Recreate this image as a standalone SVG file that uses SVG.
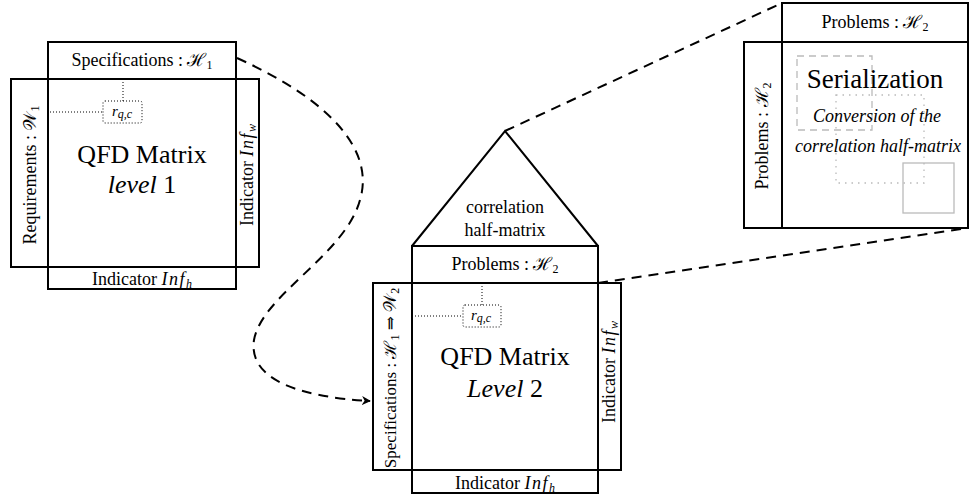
<svg xmlns="http://www.w3.org/2000/svg" width="977" height="497" viewBox="0 0 977 497">
<style>
.b{fill:none;stroke:#000;stroke-width:2}
.t{font-family:"Liberation Serif","DejaVu Serif",serif;font-size:18px;fill:#000;text-anchor:middle}
.big{font-size:26px}
.i{font-style:italic}
.m{font-style:italic;letter-spacing:1.5px}
.dot{fill:none;stroke:#000;stroke-width:1;stroke-dasharray:1 2}
.dash{fill:none;stroke:#000;stroke-width:2;stroke-dasharray:10 7}
.sub{font-size:12px}
.r{font-size:15px;font-style:italic}
</style>
<defs>
<marker id="ah" viewBox="0 0 10 10" refX="9" refY="5" markerWidth="9" markerHeight="9" markerUnits="userSpaceOnUse" orient="auto"><path d="M0,0 L10,5 L0,10 L3,5 Z" fill="#000"/></marker>
</defs>
<g id="connectors">
<path class="dash" d="M237,58 C330,100 375,150 360,200 C345,255 262,295 254,340 C248,380 300,397 370,401" marker-end="url(#ah)"/>
<line class="dash" x1="505" y1="131" x2="782" y2="3"/>
<line class="dash" x1="598" y1="283" x2="968" y2="228"/>
</g>
<g id="level1">
<rect class="b" x="11" y="79" width="248" height="188"/>
<rect class="b" x="48" y="42" width="188" height="247"/>
<line class="b" x1="48" y1="79" x2="236" y2="79"/>
<line class="b" x1="48" y1="267" x2="236" y2="267"/>
<line class="b" x1="48" y1="79" x2="48" y2="267"/>
<line class="b" x1="236" y1="79" x2="236" y2="267"/>
<text class="t" x="142" y="66">Specifications : ℋ<tspan class="sub" dy="3">1</tspan></text>
<text class="t" x="142" y="285">Indicator <tspan class="m">Inf</tspan><tspan class="sub i" dy="3">h</tspan></text>
<text class="t" transform="translate(36,175) rotate(-90)">Requirements : 𝒲<tspan class="sub" dy="3">1</tspan></text>
<text class="t" transform="translate(253,175) rotate(-90)">Indicator <tspan class="m">Inf</tspan><tspan class="sub i" dy="3">w</tspan></text>
<line class="dot" x1="123" y1="79" x2="123" y2="101"/>
<line class="dot" x1="50" y1="112" x2="103" y2="112"/>
<rect class="dot" x="103" y="101" width="39" height="22" rx="2"/>
<text class="t r" x="122" y="116">r<tspan class="sub" dy="2">q,c</tspan></text>
<text class="t big" x="142" y="163">QFD Matrix</text>
<text class="t big" x="142" y="193"><tspan class="i">level</tspan> 1</text>
</g>
<g id="level2">
<path class="b" d="M412,246 L505,131 L598,246"/>
<rect class="b" x="373" y="283" width="248" height="187"/>
<rect class="b" x="412" y="246" width="186" height="247"/>
<line class="b" x1="412" y1="283" x2="598" y2="283"/>
<line class="b" x1="412" y1="470" x2="598" y2="470"/>
<text class="t" x="505" y="213">correlation</text>
<text class="t" x="505" y="236">half-matrix</text>
<text class="t" x="505" y="270">Problems : ℋ<tspan class="sub" dy="3">2</tspan></text>
<text class="t" x="505" y="489">Indicator <tspan class="m">Inf</tspan><tspan class="sub i" dy="3">h</tspan></text>
<text class="t" transform="translate(396,378) rotate(-90)" style="font-size:17px">Specifications : ℋ<tspan class="sub" dy="3">1</tspan><tspan dy="-3"> ⇒ 𝒲</tspan><tspan class="sub" dy="3">2</tspan></text>
<text class="t" transform="translate(615,372) rotate(-90)">Indicator <tspan class="m">Inf</tspan><tspan class="sub i" dy="3">w</tspan></text>
<line class="dot" x1="482" y1="283" x2="482" y2="305"/>
<line class="dot" x1="415" y1="316" x2="463" y2="316"/>
<rect class="dot" x="463" y="305" width="38" height="22" rx="2"/>
<text class="t r" x="481" y="320">r<tspan class="sub" dy="2">q,c</tspan></text>
<text class="t big" x="505" y="365">QFD Matrix</text>
<text class="t big" x="505" y="397"><tspan class="i">Level</tspan> 2</text>
</g>
<g id="serialization">
<rect class="b" x="744" y="42" width="224" height="186"/>
<rect class="b" x="782" y="3" width="186" height="225"/>
<line class="b" x1="782" y1="42" x2="968" y2="42"/>
<rect x="797" y="56" width="75" height="74" fill="none" stroke="#bbb" stroke-width="1.3" stroke-dasharray="7 5"/>
<rect x="836" y="95" width="88" height="88" fill="none" stroke="#bbb" stroke-width="1.3" stroke-dasharray="1.5 5"/>
<rect x="903" y="163" width="51" height="50" fill="none" stroke="#bbb" stroke-width="1.3"/>
<text class="t" x="875" y="28">Problems : ℋ<tspan class="sub" dy="3">2</tspan></text>
<text class="t" transform="translate(768,136) rotate(-90)">Problems : ℋ<tspan class="sub" dy="3">2</tspan></text>
<text class="t big" x="875" y="88" style="font-size:27px">Serialization</text>
<text class="t i" x="877" y="122">Conversion of the</text>
<text class="t i" x="878" y="152">correlation half-matrix</text>
</g>
</svg>
